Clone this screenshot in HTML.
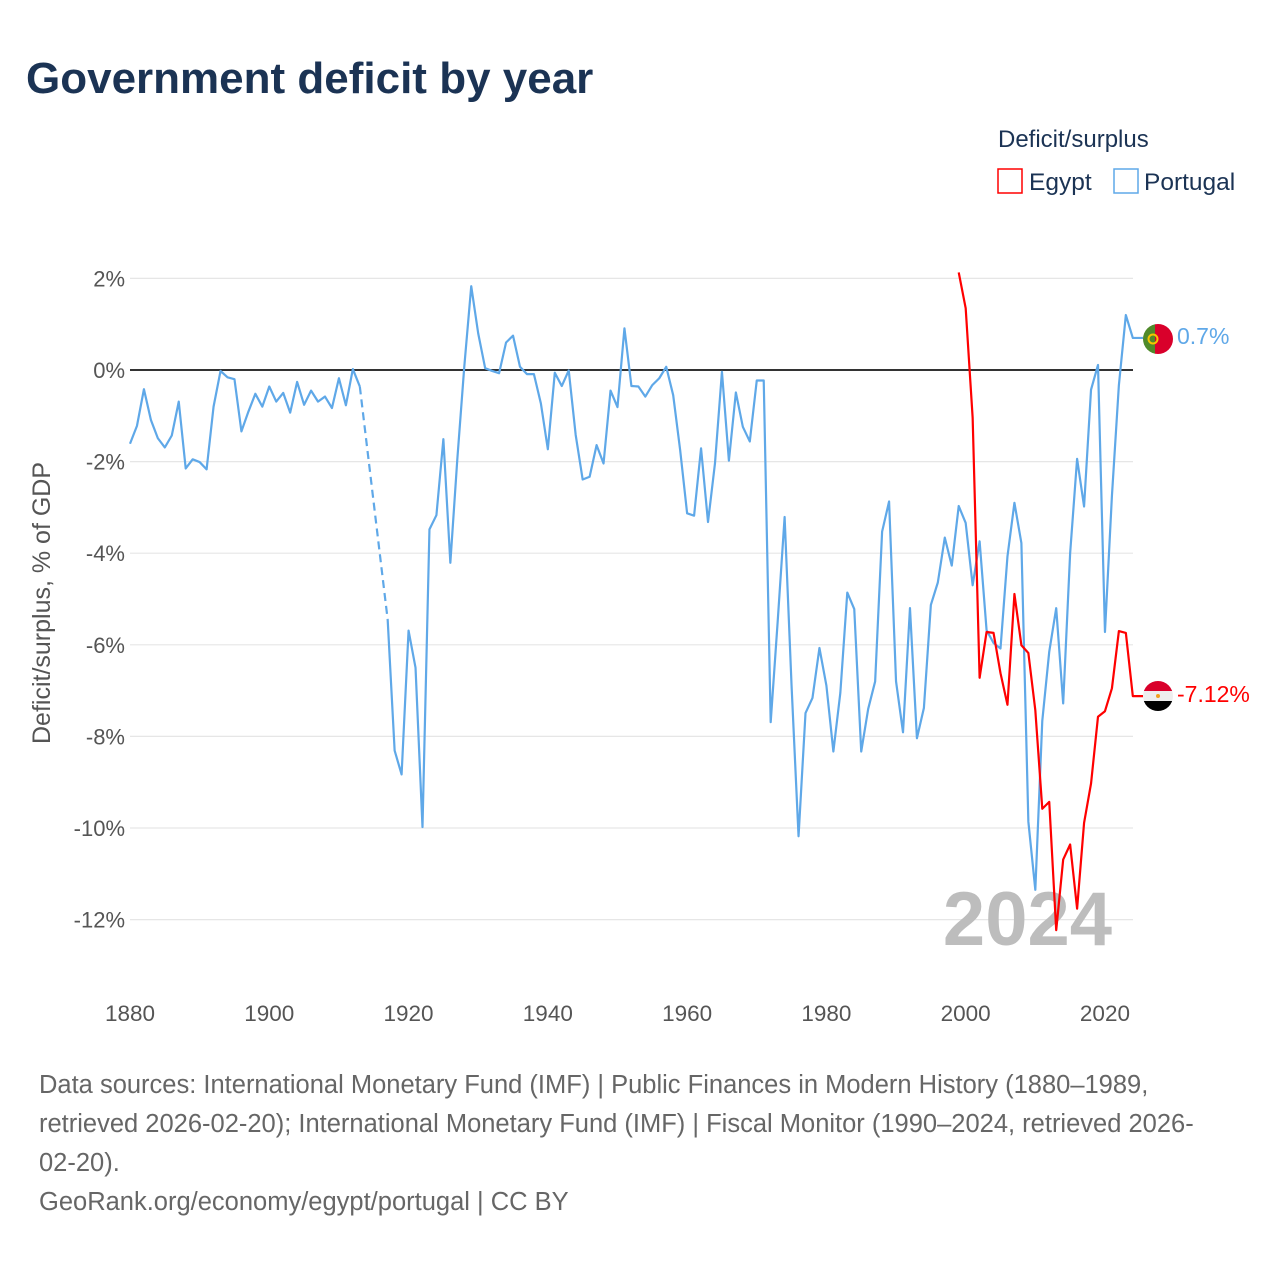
<!DOCTYPE html>
<html><head><meta charset="utf-8"><style>
body{margin:0;background:#fff;}
svg{display:block;font-family:"Liberation Sans",sans-serif;}
</style></head><body>
<svg id="chart" width="1280" height="1280" viewBox="0 0 1280 1280" xmlns="http://www.w3.org/2000/svg">
<text x="26" y="93" font-size="44" font-weight="bold" fill="#1b3354">Government deficit by year</text>
<text x="998" y="147" font-size="24" fill="#1b3354">Deficit/surplus</text>
<g><rect x="998" y="169" width="24" height="24" fill="none" stroke="#ff0000" stroke-width="1.5"/><text x="1029" y="190" font-size="24.5" fill="#1b3354">Egypt</text></g>
<g><rect x="1114" y="169" width="24" height="24" fill="none" stroke="#5fa8e8" stroke-width="1.5"/><text x="1144" y="190" font-size="24.5" fill="#1b3354">Portugal</text></g>
<g id="grid"></g>
<g id="xticks"></g>
<text x="50" y="603" font-size="25" fill="#555" text-anchor="middle" transform="rotate(-90 50 603)">Deficit/surplus, % of GDP</text>
<text x="1112" y="945" font-size="76" font-weight="bold" fill="#bdbdbd" text-anchor="end">2024</text>
<g id="series"></g>
<g><clipPath id="cp1"><circle cx="1158" cy="339" r="15"/></clipPath><g clip-path="url(#cp1)"><rect x="1143" y="324" width="12" height="30" fill="#4f8a2a"/><rect x="1155" y="324" width="18" height="30" fill="#d9002b"/></g><circle cx="1153" cy="339" r="4.5" fill="none" stroke="#f5c400" stroke-width="2"/></g>
<text x="1177" y="344" font-size="23" fill="#5fa8e8">0.7%</text>
<g><clipPath id="cp2"><circle cx="1158" cy="696" r="15"/></clipPath><g clip-path="url(#cp2)"><rect x="1143" y="681" width="30" height="10" fill="#d9002b"/><rect x="1143" y="691" width="30" height="10" fill="#eee"/><rect x="1143" y="701" width="30" height="10" fill="#000"/></g><circle cx="1158" cy="696" r="2" fill="#f0a020"/></g>
<text x="1177" y="702" font-size="23" fill="#ff0000">-7.12%</text>
<g font-size="25.5" fill="#666">
<text x="39" y="1093">Data sources: International Monetary Fund (IMF) | Public Finances in Modern History (1880–1989,</text>
<text x="39" y="1132">retrieved 2026-02-20); International Monetary Fund (IMF) | Fiscal Monitor (1990–2024, retrieved 2026-</text>
<text x="39" y="1171">02-20).</text>
<text x="39" y="1210">GeoRank.org/economy/egypt/portugal | CC BY</text>
</g>
</svg>
<script>
const yTicks = [2, 0, -2, -4, -6, -8, -10, -12];
const xTicks = [1880, 1900, 1920, 1940, 1960, 1980, 2000, 2020];
const portugalYears = [1880,1881,1882,1883,1884,1885,1886,1887,1888,1889,1890,1891,1892,1893,1894,1895,1896,1897,1898,1899,1900,1901,1902,1903,1904,1905,1906,1907,1908,1909,1910,1911,1912,1913,1917,1918,1919,1920,1921,1922,1923,1924,1925,1926,1927,1928,1929,1930,1931,1932,1933,1934,1935,1936,1937,1938,1939,1940,1941,1942,1943,1944,1945,1946,1947,1948,1949,1950,1951,1952,1953,1954,1955,1956,1957,1958,1959,1960,1961,1962,1963,1964,1965,1966,1967,1968,1969,1970,1971,1972,1973,1974,1975,1976,1977,1978,1979,1980,1981,1982,1983,1984,1985,1986,1987,1988,1989,1990,1991,1992,1993,1994,1995,1996,1997,1998,1999,2000,2001,2002,2003,2004,2005,2006,2007,2008,2009,2010,2011,2012,2013,2014,2015,2016,2017,2018,2019,2020,2021,2022,2023,2024];
const portugalValues = [-1.61,-1.22,-0.42,-1.09,-1.49,-1.69,-1.43,-0.69,-2.15,-1.95,-2.01,-2.17,-0.8,-0.02,-0.16,-0.2,-1.34,-0.91,-0.52,-0.8,-0.36,-0.69,-0.5,-0.93,-0.26,-0.76,-0.45,-0.69,-0.58,-0.83,-0.18,-0.77,0.02,-0.36,-5.45,-8.31,-8.83,-5.69,-6.5,-9.98,-3.48,-3.17,-1.51,-4.21,-1.95,0.07,1.83,0.8,0.04,-0.02,-0.07,0.6,0.75,0.07,-0.09,-0.09,-0.73,-1.73,-0.06,-0.35,-0.01,-1.42,-2.39,-2.33,-1.64,-2.04,-0.45,-0.81,0.91,-0.35,-0.36,-0.58,-0.33,-0.18,0.07,-0.55,-1.75,-3.13,-3.18,-1.71,-3.32,-2.04,-0.04,-1.98,-0.49,-1.24,-1.56,-0.23,-0.23,-7.69,-5.5,-3.21,-6.9,-10.18,-7.49,-7.16,-6.07,-6.89,-8.33,-7.05,-4.86,-5.22,-8.33,-7.4,-6.8,-3.53,-2.87,-6.8,-7.91,-5.2,-8.04,-7.38,-5.13,-4.64,-3.66,-4.27,-2.97,-3.34,-4.7,-3.74,-5.68,-5.96,-6.08,-4.07,-2.9,-3.78,-9.86,-11.35,-7.66,-6.15,-5.2,-7.28,-4.0,-1.94,-2.98,-0.43,0.11,-5.72,-2.75,-0.33,1.2,0.7];
const egyptYears = [1999,2000,2001,2002,2003,2004,2005,2006,2007,2008,2009,2010,2011,2012,2013,2014,2015,2016,2017,2018,2019,2020,2021,2022,2023,2024];
const egyptValues = [2.13,1.35,-1.04,-6.72,-5.72,-5.74,-6.62,-7.31,-4.89,-6.01,-6.18,-7.43,-9.58,-9.43,-12.23,-10.69,-10.36,-11.76,-9.89,-9.03,-7.57,-7.45,-6.95,-5.7,-5.74,-7.12];

const X0 = 130, X1 = 1133;
function xs(yr){ return 130 + (yr - 1880) * 6.964; }
function ys(v){ return 370 - v * 45.8; }
const NS = "http://www.w3.org/2000/svg";
const grid = document.getElementById('grid');
yTicks.forEach(t => {
  const l = document.createElementNS(NS, 'line');
  l.setAttribute('x1', X0); l.setAttribute('x2', X1);
  l.setAttribute('y1', ys(t)); l.setAttribute('y2', ys(t));
  l.setAttribute('stroke', t === 0 ? '#333' : '#e6e6e6');
  l.setAttribute('stroke-width', t === 0 ? 2 : 1.2);
  
  
  grid.appendChild(l);
  const tx = document.createElementNS(NS, 'text');
  tx.setAttribute('x', 125); tx.setAttribute('y', ys(t) + 8);
  tx.setAttribute('text-anchor', 'end'); tx.setAttribute('font-size', '22'); tx.setAttribute('fill', '#555');
  tx.textContent = t + '%';
  
  
  grid.appendChild(tx);
});
const xt = document.getElementById('xticks');
xTicks.forEach(t => {
  const tx = document.createElementNS(NS, 'text');
  tx.setAttribute('x', xs(t)); tx.setAttribute('y', 1021);
  tx.setAttribute('text-anchor', 'middle'); tx.setAttribute('font-size', '22.5'); tx.setAttribute('fill', '#555');
  tx.textContent = t;
  
  
  xt.appendChild(tx);
});
const sg = document.getElementById('series');
function drawSeries(years, vals, color, name, endX){
  let segs = [[]];
  let dashed = [];
  for (let i = 0; i < years.length; i++) {
    if (i > 0 && years[i] - years[i-1] > 1) {
      dashed.push([[xs(years[i-1]), ys(vals[i-1])], [xs(years[i]), ys(vals[i])]]);
      segs.push([]);
    }
    segs[segs.length-1].push([xs(years[i]), ys(vals[i])]);
  }
  const last = segs[segs.length-1];
  last.push([endX, last[last.length-1][1]]);
  segs.forEach(s => {
    const p = document.createElementNS(NS, 'polyline');
    p.setAttribute('points', s.map(q => q.join(',')).join(' '));
    p.setAttribute('fill', 'none'); p.setAttribute('stroke', color); p.setAttribute('stroke-width', 2.2);
    p.setAttribute('stroke-linejoin', 'round');
    
    
    sg.appendChild(p);
  });
  dashed.forEach(s => {
    const p = document.createElementNS(NS, 'polyline');
    p.setAttribute('points', s.map(q => q.join(',')).join(' '));
    p.setAttribute('fill', 'none'); p.setAttribute('stroke', color); p.setAttribute('stroke-width', 2.2);
    p.setAttribute('stroke-dasharray', '8,5');
    
    
    sg.appendChild(p);
  });
}
drawSeries(portugalYears, portugalValues, '#5fa8e8', 'portugal', 1143);
drawSeries(egyptYears, egyptValues, '#ff0000', 'egypt', 1143);
</script>
</body></html>
